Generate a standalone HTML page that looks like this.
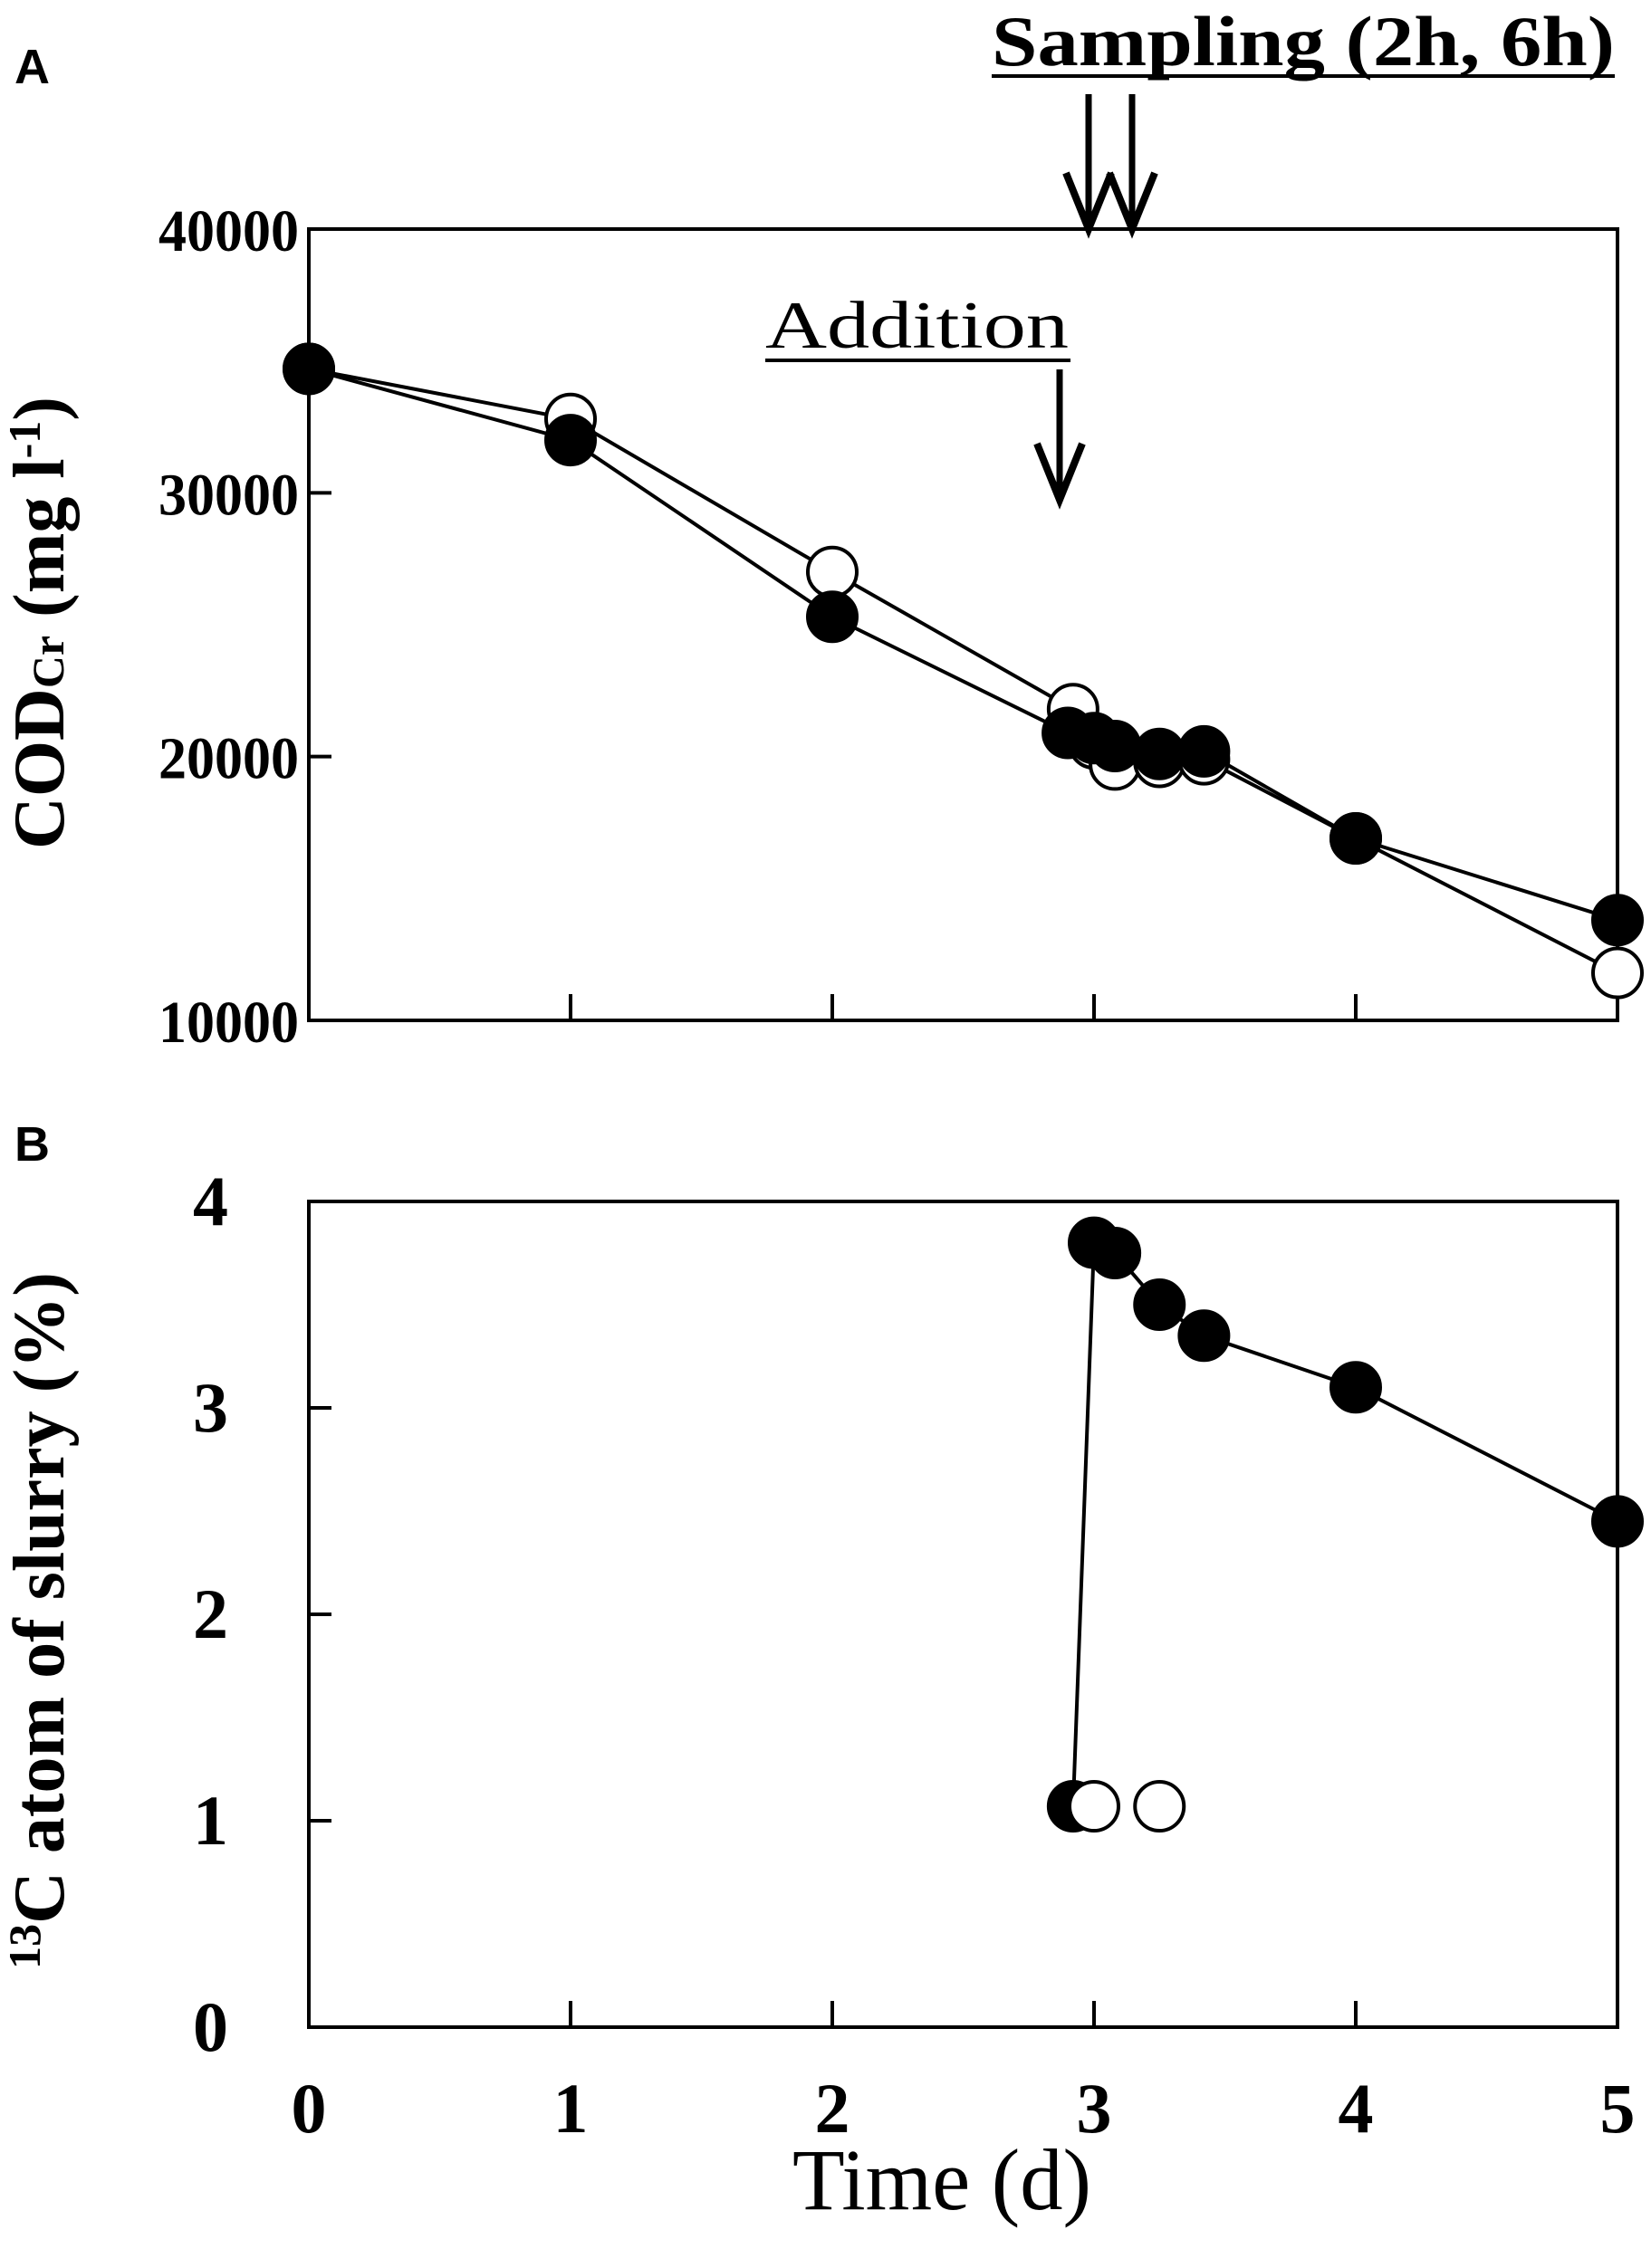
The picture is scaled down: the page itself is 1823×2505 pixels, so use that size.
<!DOCTYPE html>
<html><head><meta charset="utf-8"><style>
html,body{margin:0;padding:0;background:#fff}
svg text{font-family:"Liberation Serif",serif;fill:#000}
</style></head><body>
<svg width="1823" height="2500" viewBox="0 0 1823 2500" xmlns="http://www.w3.org/2000/svg">
<g id="root"></g>
</svg>
<script>
const days=[0,1,2,3,4,5];
const codTicks=[10000,20000,30000,40000];
const pctTicks=[0,1,2,3,4];
const codFilledX=[0,1,2,2.9,3,3.08,3.25,3.42,4,5];
const codFilledY=[34700,32000,25300,20900,20700,20400,20100,20200,16900,13800];
const codOpenX=[0,1,2,2.92,3,3.08,3.25,3.42,4,5];
const codOpenY=[34700,32800,27000,21800,20500,19700,19800,19900,16900,11800];
const cFilledX=[2.92,3,3.08,3.25,3.42,4,5];
const cFilledY=[1.07,3.8,3.75,3.5,3.35,3.1,2.45];
const cOpenX=[3,3.25];
const cOpenY=[1.07,1.07];

const NS='http://www.w3.org/2000/svg';
const root=document.getElementById('root');
function mk(tag,attrs,parent){const e=document.createElementNS(NS,tag);for(const k in attrs)e.setAttribute(k,attrs[k]);(parent||root).appendChild(e);return e;}
const X0=341,X1=1786;
const xs=d=>X0+(X1-X0)*d/5;
const yA=v=>1127-(1127-253)*(v-10000)/30000;
const yB=v=>2239-(2239-1327)*v/4;

let fa=mk('rect',{x:X0,y:253,width:X1-X0,height:1127-253,fill:'none',stroke:'#000','stroke-width':4});


let fb=mk('rect',{x:X0,y:1327,width:X1-X0,height:2239-1327,fill:'none',stroke:'#000','stroke-width':4});



days.forEach(d=>{
  let t=mk('line',{x1:xs(d),x2:xs(d),y1:1127,y2:1098,stroke:'#000','stroke-width':4});
  
  
  let t2=mk('line',{x1:xs(d),x2:xs(d),y1:2239,y2:2210,stroke:'#000','stroke-width':4});
  
  
  let l=mk('text',{x:xs(d),y:2355,'text-anchor':'middle','font-size':78,'font-weight':'bold'});
  l.textContent=d;
  
  
});
codTicks.forEach(v=>{
  let t=mk('line',{x1:X0,x2:X0+25,y1:yA(v),y2:yA(v),stroke:'#000','stroke-width':4});
  
  
  let l=mk('text',{x:330,y:yA(v)+24,'text-anchor':'end','font-size':66,'font-weight':'bold',textLength:155,lengthAdjust:'spacingAndGlyphs'});
  l.textContent=v;
  
  
});
pctTicks.forEach(v=>{
  let t=mk('line',{x1:X0,x2:X0+25,y1:yB(v),y2:yB(v),stroke:'#000','stroke-width':4});
  
  
  let l=mk('text',{x:252,y:yB(v)+26,'text-anchor':'end','font-size':78,'font-weight':'bold'});
  l.textContent=v;
  
  
});

function series(xa,ya,ys,name){
  let p=mk('polyline',{points:xa.map((x,i)=>xs(x)+','+ys(ya[i])).join(' '),fill:'none',stroke:'#000','stroke-width':4});
  
  
}
function pts(xa,ya,ys,fill,name){
  xa.forEach((x,i)=>{
    let c=mk('circle',{cx:xs(x),cy:ys(ya[i]),r:27,fill:fill,stroke:'#000','stroke-width':4});
    
    
  });
}
series(codOpenX,codOpenY,yA,'cod-open');
series(codFilledX,codFilledY,yA,'cod-filled');
pts(codOpenX,codOpenY,yA,'#fff','cod-open');
pts(codFilledX,codFilledY,yA,'#000','cod-filled');
series(cFilledX,cFilledY,yB,'c13-filled');
pts(cFilledX,cFilledY,yB,'#000','c13-filled');
pts(cOpenX,cOpenY,yB,'#fff','c13-open');

function arrow(x,y1,y2,name){
  let g=mk('g',{});
  
  
  mk('line',{x1:x,x2:x,y1:y1,y2:y2,stroke:'#000','stroke-width':7},g);
  mk('polyline',{points:(x-25)+','+(y2-62)+' '+x+','+y2+' '+(x+25)+','+(y2-62),fill:'none',stroke:'#000','stroke-width':8},g);
}
arrow(1202,104,253,'sampling-arrow-2h');
arrow(1250,104,253,'sampling-arrow-6h');
arrow(1170,408,552,'addition-arrow');

function txt(s,attrs,name){let t=mk('text',attrs);t.textContent=s;return t;}
txt('Sampling (2h, 6h)',{x:1095,y:72,'font-size':78,'font-weight':'bold',textLength:688,lengthAdjust:'spacingAndGlyphs'},'sampling-label');
let u1=mk('line',{x1:1095,x2:1783,y1:84,y2:84,stroke:'#000','stroke-width':4});


txt('Addition',{x:845,y:384,'font-size':74,textLength:335,lengthAdjust:'spacingAndGlyphs'},'addition-label');
let u2=mk('line',{x1:845,x2:1182,y1:398,y2:398,stroke:'#000','stroke-width':4});



let ta=txt('',{transform:'translate(70,688) rotate(-90)','text-anchor':'middle','font-size':80,'font-weight':'bold'},'y-axis-title-a');
ta.innerHTML='COD<tspan font-size="50">Cr</tspan> (mg l<tspan font-size="50" dy="-26">-1</tspan><tspan dy="26">)</tspan>';
let tb=txt('',{transform:'translate(70,1790) rotate(-90)','text-anchor':'middle','font-size':80,'font-weight':'bold'},'y-axis-title-b');
tb.innerHTML='<tspan font-size="50" dy="-26">13</tspan><tspan dy="26">C atom of slurry (%)</tspan>';
txt('Time (d)',{x:1040,y:2440,'text-anchor':'middle','font-size':96,textLength:330,lengthAdjust:'spacingAndGlyphs'},'x-axis-title');
txt('A',{x:16,y:92,'font-size':54,'font-weight':'bold',style:'font-family:"Liberation Sans",sans-serif'},'panel-a-label');
txt('B',{x:16,y:1282,'font-size':54,'font-weight':'bold',style:'font-family:"Liberation Sans",sans-serif'},'panel-b-label');
</script>
</body></html>
